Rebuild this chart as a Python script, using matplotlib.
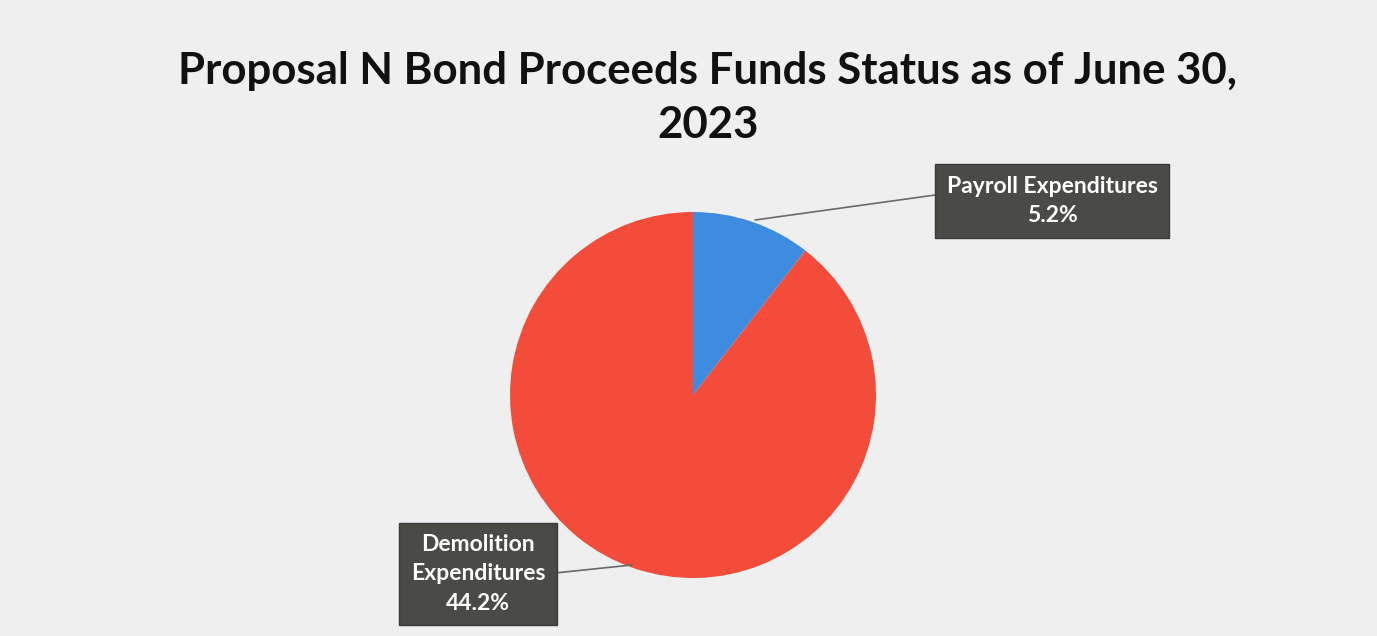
import matplotlib
matplotlib.use("Agg")
import matplotlib.pyplot as plt

categories = ["Payroll Expenditures", "Demolition Expenditures"]
label_lines = ["Payroll Expenditures", "Demolition\nExpenditures"]
values = [5.2, 44.2]
colors = ["#3D8CE0", "#F44C3A"]
title = "Proposal N Bond Proceeds Funds Status as of June 30,\n2023"

W, H = 1377, 636
fig = plt.figure(figsize=(W / 100, H / 100), dpi=100)
fig.patch.set_facecolor("#EFEFEF")

cx, cy, r = 693, 395, 183
ax = fig.add_axes([(cx - r) / W, (H - cy - r) / H, 2 * r / W, 2 * r / H])
ax.set_facecolor("none")
wedges, _ = ax.pie(values, colors=colors, startangle=90, counterclock=False,
                   radius=1.0, wedgeprops=dict(linewidth=0))
ax.set_xlim(-1, 1)
ax.set_ylim(-1, 1)
ax.set_aspect("equal")
ax.axis("off")

def px(x, y):
    return ((x - cx) / r, (cy - y) / r)

box = dict(boxstyle="square,pad=0.5", fc="#4A4A47", ec="#3A3A38", lw=1)

# Payroll label
ax.annotate(f"{label_lines[0]}\n{values[0]}%", xy=px(755, 220), xytext=px(1052, 201),
            ha="center", va="center", color="white", fontsize=16.5, family="Lato",
            fontweight="bold", linespacing=1.5, bbox=box, annotation_clip=False,
            arrowprops=dict(arrowstyle="-", color="#6A6A6A", lw=1.2,
                            shrinkA=0, shrinkB=0, relpos=(0, 0.65)))
# Demolition label
ax.annotate(f"{label_lines[1]}\n{values[1]}%", xy=px(632, 565), xytext=px(478, 574),
            ha="center", va="center", color="white", fontsize=16.5, family="Lato",
            fontweight="bold", linespacing=1.5, bbox=box, annotation_clip=False,
            arrowprops=dict(arrowstyle="-", color="#6A6A6A", lw=1.2,
                            shrinkA=0, shrinkB=0, relpos=(1, 0.5)))

fig.text(708 / W, 1 - 98 / H, title, ha="center", va="center", fontsize=31.5,
         family="Lato", fontweight="bold", color="#111111", linespacing=1.4)

fig.savefig("out.png", dpi=100, facecolor=fig.get_facecolor())
